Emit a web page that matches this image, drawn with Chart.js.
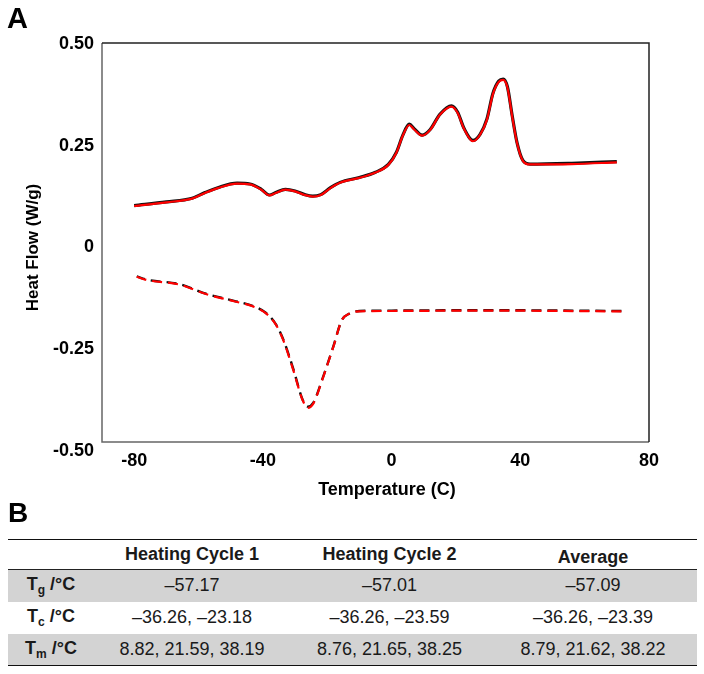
<!DOCTYPE html>
<html>
<head>
<meta charset="utf-8">
<script src="https://cdn.jsdelivr.net/npm/chart.js@4/dist/chart.umd.min.js"></script>
<style>
  body { margin: 0; background: #fff; font-family: 'Liberation Sans', Arial, sans-serif; }
  #page { position: relative; width: 704px; height: 674px; overflow: hidden; }
  #chartBox { position: absolute; left: 0; top: 0; width: 704px; height: 505px; }
  .panel { position: absolute; font-weight: bold; line-height: 1; color: #000; }
  #tbl { position: absolute; left: 8px; top: 539px; width: 689px; border-collapse: collapse; color: #1a1a1a; }
  #tbl td, #tbl th { padding: 0; text-align: center; font-size: 18px; }
  #tbl thead tr { border-top: 1.5px solid #111; border-bottom: 1.5px solid #222; height: 30px; }
  #tbl th { font-weight: bold; }
  #tbl tbody tr { height: 32px; }
  #tbl tbody tr.gray { background: #d3d3d3; }
  #tbl tbody tr:last-child { border-bottom: 1.5px solid #111; }
  #tbl td.lab { font-weight: bold; }
  #tbl sub { font-size: 12px; vertical-align: -4px; }
</style>
</head>
<body>
<div id="page">
  <div id="chartBox"><canvas id="dscChart" width="704" height="505"></canvas></div>
  <div class="panel" style="left:7px;top:4px;font-size:29px;">A</div>
  <div class="panel" style="left:8px;top:499px;font-size:28px;">B</div>
  <table id="tbl"></table>
</div>
<script>
// heating curves (upper, solid)
const heatTemp   = [-80, -70, -62, -58, -54, -48, -44, -40.5, -38, -36, -33, -30, -27, -24.5, -22, -19, -16, -10, -5, -1, 1.5, 3.5, 5.5, 7, 9.5, 12, 15, 18.6, 20.5, 22.5, 25.3, 27.5, 29.6, 31.5, 33.3, 34.7, 36, 37.5, 39, 40.8, 43, 56, 70]
const heatCycle1 = [0.103, 0.112, 0.121, 0.135, 0.147, 0.158, 0.156, 0.143, 0.129, 0.135, 0.143, 0.139, 0.130, 0.126, 0.130, 0.147, 0.160, 0.172, 0.185, 0.204, 0.234, 0.276, 0.303, 0.292, 0.276, 0.290, 0.327, 0.348, 0.333, 0.293, 0.263, 0.278, 0.315, 0.379, 0.409, 0.414, 0.395, 0.323, 0.257, 0.214, 0.205, 0.207, 0.211]
const heatCycle2 = [0.102, 0.111, 0.120, 0.134, 0.146, 0.157, 0.155, 0.142, 0.128, 0.134, 0.142, 0.138, 0.129, 0.125, 0.129, 0.146, 0.159, 0.171, 0.184, 0.203, 0.233, 0.275, 0.301, 0.290, 0.275, 0.289, 0.326, 0.346, 0.331, 0.292, 0.261, 0.277, 0.313, 0.377, 0.407, 0.412, 0.393, 0.321, 0.256, 0.213, 0.204, 0.205, 0.209]

// cooling curves (lower, dashed)
const coolTemp   = [-79.2, -76, -66, -57.5, -49, -43, -39, -36, -33.7, -30.6, -27.6, -26, -24.3, -21.2, -18.1, -15.5, -13, -10, 0, 28, 72]
const coolCycle1 = [-0.071, -0.079, -0.090, -0.114, -0.131, -0.144, -0.161, -0.188, -0.225, -0.297, -0.375, -0.391, -0.381, -0.316, -0.243, -0.179, -0.162, -0.156, -0.155, -0.154, -0.156]
const coolCycle2 = [-0.072, -0.080, -0.091, -0.115, -0.132, -0.145, -0.162, -0.189, -0.227, -0.300, -0.376, -0.394, -0.383, -0.317, -0.244, -0.179, -0.162, -0.157, -0.156, -0.155, -0.157]

const xTicks = [-80, -40, 0, 40, 80]
const yTicks = [-0.5, -0.25, 0, 0.25, 0.5]
const yTickLabels = ['-0.50', '-0.25', '0', '0.25', '0.50']

// table B
const tableHeaders = ['Heating Cycle 1', 'Heating Cycle 2', 'Average']
const rowSymbols = ['g', 'c', 'm']
const tgValues = ['\u201357.17', '\u201357.01', '\u201357.09']
const tcValues = ['\u201336.26, \u201323.18', '\u201336.26, \u201323.59', '\u201336.26, \u201323.39']
const tmValues = ['8.82, 21.59, 38.19', '8.76, 21.65, 38.25', '8.79, 21.62, 38.22']

function pts(xs, ys) {
  return xs.map((x, i) => ({x: x, y: ys[i]}))
}

const tickFont = {family: "'Liberation Sans', Arial, sans-serif", size: 18, weight: 'bold'}

// frame of the plot (the axis frame in the original sits a bit above the -0.50 tick)
const boxPlugin = {
  id: 'boxPlugin',
  afterDraw(chart) {
    const ctx = chart.ctx
    const a = chart.chartArea
    const top = a.top - 1
    const bottom = a.bottom - 9
    ctx.save()
    ctx.lineWidth = 1.5
    ctx.strokeStyle = '#666'
    ctx.beginPath()
    ctx.moveTo(a.left, top)
    ctx.lineTo(a.left, bottom)
    ctx.lineTo(a.right, bottom)
    ctx.stroke()
    ctx.strokeStyle = '#222'
    ctx.beginPath()
    ctx.moveTo(a.left, top)
    ctx.lineTo(a.right, top)
    ctx.lineTo(a.right, bottom)
    ctx.stroke()
    ctx.fillStyle = '#000'
    ctx.font = "bold 18px 'Liberation Sans', Arial, sans-serif"
    ctx.textAlign = 'center'
    ctx.textBaseline = 'middle'
    ctx.fillText('Temperature (C)', 387, 490)
    ctx.restore()
  }
}

const ctx = document.getElementById('dscChart').getContext('2d')
const myChart = new Chart(ctx, {
  type: 'line',
  data: {
    datasets: [
      {label: 'Heating 1', data: pts(heatTemp, heatCycle1), borderColor: '#111', borderWidth: 3.2, order: 2},
      {label: 'Heating 2', data: pts(heatTemp, heatCycle2), borderColor: 'rgb(255,0,0)', borderWidth: 2.2, order: 1},
      {label: 'Cooling 1', data: pts(coolTemp, coolCycle1), borderColor: '#111', borderWidth: 2.4, borderDash: [10, 6], borderDashOffset: 1.5, order: 2},
      {label: 'Cooling 2', data: pts(coolTemp, coolCycle2), borderColor: 'rgb(255,0,0)', borderWidth: 2.2, borderDash: [10, 6], order: 1}
    ]
  },
  options: {
    responsive: false,
    animation: false,
    devicePixelRatio: 1,
    layout: {padding: {left: 0, top: 44, right: 55, bottom: 0}},
    elements: {
      point: {radius: 0},
      line: {cubicInterpolationMode: 'monotone', fill: false}
    },
    plugins: {legend: {display: false}, tooltip: {enabled: false}},
    scales: {
      x: {
        type: 'linear',
        min: -90,
        max: 80,
        afterBuildTicks: s => { s.ticks = xTicks.map(v => ({value: v})) },
        afterFit: s => { s.height = 505 - 451 },
        grid: {display: false, drawTicks: false},
        border: {display: false},
        ticks: {font: tickFont, color: '#000', padding: -1, maxRotation: 0}
      },
      y: {
        type: 'linear',
        min: -0.5,
        max: 0.5,
        afterBuildTicks: s => { s.ticks = yTicks.map(v => ({value: v})) },
        afterFit: s => { s.width = 102 },
        grid: {display: false, drawTicks: false},
        border: {display: false},
        ticks: {
          font: tickFont,
          color: '#000',
          padding: 8,
          callback: v => yTickLabels[yTicks.indexOf(v)]
        },
        title: {
          display: true,
          text: 'Heat Flow (W/g)',
          color: '#000',
          font: {family: "'Liberation Sans', Arial, sans-serif", size: 17, weight: 'bold'},
          padding: {top: 23, bottom: 0}
        }
      }
    }
  },
  plugins: [boxPlugin]
})

// build the table
const tbl = document.getElementById('tbl')
let html = '<colgroup><col style="width:86px"><col style="width:196px"><col style="width:199px"><col style="width:208px"></colgroup>'
html += '<thead><tr><th></th>'
tableHeaders.forEach((h, i) => {
  html += '<th style="' + (i === 2 ? 'padding-top:5px' : '') + '">' + h + '</th>'
})
html += '</tr></thead><tbody>'
const rows = [tgValues, tcValues, tmValues]
rows.forEach((vals, r) => {
  html += '<tr class="' + (r % 2 === 0 ? 'gray' : '') + '"><td class="lab">T<sub>' + rowSymbols[r] + '</sub> /\u00b0C</td>'
  vals.forEach(v => { html += '<td>' + v + '</td>' })
  html += '</tr>'
})
html += '</tbody>'
tbl.innerHTML = html
</script>
</body>
</html>
